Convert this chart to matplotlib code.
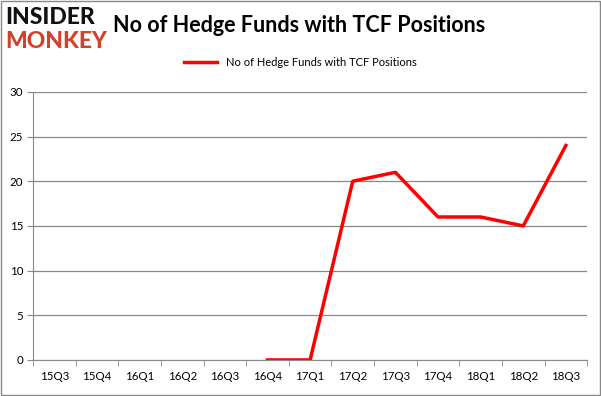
import numpy as np
import matplotlib
matplotlib.use("Agg")
from matplotlib import pyplot as plt
from matplotlib.patches import Rectangle

quarters = ["15Q3", "15Q4", "16Q1", "16Q2", "16Q3", "16Q4", "17Q1",
            "17Q2", "17Q3", "17Q4", "18Q1", "18Q2", "18Q3"]
funds = [np.nan, np.nan, np.nan, np.nan, np.nan, 0, 0, 20, 21, 16, 16, 15, 24]
label = "No of Hedge Funds with TCF Positions"

plt.rcParams['font.family'] = ['Lato', 'DejaVu Sans']

fig = plt.figure(figsize=(6.01, 3.96), dpi=100)
ax = fig.add_axes([0.055, 0.091, 0.922, 0.677])

x = np.arange(len(quarters))
ax.plot(x, funds, color="#ff0000", linewidth=2.5, label=label)

ax.set_xlim(-0.5, len(quarters) - 0.5)
ax.set_ylim(0, 30)
ax.set_yticks([0, 5, 10, 15, 20, 25, 30])
ax.set_xticks(x)
ax.set_xticklabels(quarters)
ax.set_xticks(np.arange(-0.5, len(quarters), 1), minor=True)
ax.tick_params(axis="x", which="major", length=0, pad=8, labelsize=8.3)
ax.tick_params(axis="x", which="minor", length=4, color="#888888")
ax.tick_params(axis="y", length=4, color="#888888", labelsize=8.3, pad=3)
ax.yaxis.grid(True, color="#888888", linewidth=0.9)
ax.set_axisbelow(True)
for s in ["top", "right"]:
    ax.spines[s].set_visible(False)
ax.spines["left"].set_color("#888888")
ax.spines["bottom"].set_color("#888888")

fig.legend(loc="center", bbox_to_anchor=(0.5, 0.843), frameon=False,
           fontsize=8, handlelength=3)

fig.text(0.188, 0.935, label, fontsize=15.5, fontweight="bold", va="center")
fig.text(0.008, 0.955, "INSIDER", fontsize=16.5, fontweight="black",
         color="#111111", va="center")
fig.text(0.008, 0.895, "MONKEY", fontsize=16.5, fontweight="black",
         color="#d2412b", va="center")

fig.patches.append(Rectangle((0.002, 0.003), 0.996, 0.994, transform=fig.transFigure,
                             fill=False, edgecolor="#888888", linewidth=1))

fig.savefig("out.png", dpi=100)
